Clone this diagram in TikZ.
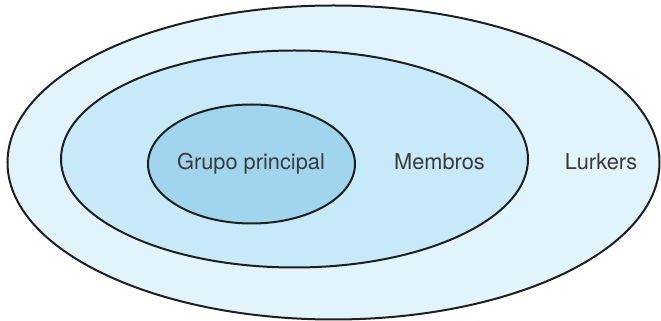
\documentclass[tikz,border=0pt]{standalone}
\usepackage{fontspec}
\setmainfont{TeX Gyre Heros}
\usetikzlibrary{shapes.geometric}
\definecolor{lurkfill}{HTML}{E1F3FB}
\definecolor{membfill}{HTML}{C7E9F8}
\definecolor{corefill}{HTML}{A1D5EE}
\definecolor{labtext}{HTML}{3A3A3A}
\tikzset{
	ring/.style={ellipse,draw=black!88,line width=2pt,inner sep=0pt},
	lab/.style={anchor=base,text=labtext,font=\fontsize{21.8}{26}\selectfont}
}
\begin{document}
\begin{tikzpicture}[x=1pt,y=1pt]
		\useasboundingbox(0,0)rectangle(661,321);
		\node[ring,fill=lurkfill,minimum width=652pt,minimum height=314pt](lurk)at(333.5,158.5){};
		\node[ring,fill=membfill,minimum width=467pt,minimum height=217pt](memb)at(294.5,162){};
		\node[ring,fill=corefill,minimum width=207pt,minimum height=119pt](core)at(251.5,157){};
		\node[lab](corelab)at(251,151){Grupo principal};
		\node[lab](memblab)at(439.5,151){Membros};
		\node[lab](lurklab)at(601,151){Lurkers};
	\end{tikzpicture}
\end{document}
